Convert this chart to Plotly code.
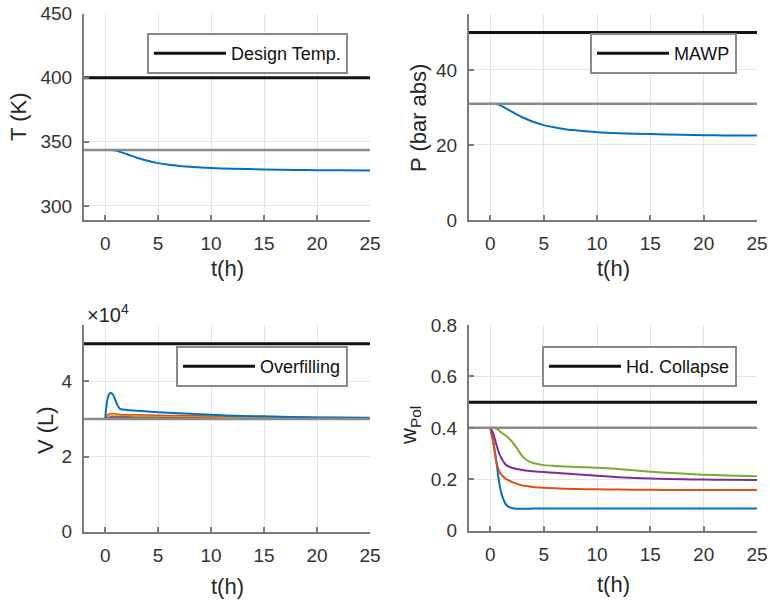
import plotly.graph_objects as go

# ---------------- data ----------------
x_ticks = [0, 5, 10, 15, 20, 25]

# Temperature panel
t_T = [0, 0.5, 1, 1.5, 2, 2.5, 3, 4, 5, 6, 7, 8, 10, 12, 15, 18, 20, 22, 25]
T_blue = [343.7, 343.7, 343.3, 342.0, 340.5, 339.0, 337.6, 335.2, 333.4, 332.1,
          331.2, 330.5, 329.6, 329.0, 328.5, 328.1, 327.9, 327.8, 327.6]
T_init = 343.7
T_design = 400
T_ticks = [300, 350, 400, 450]

# Pressure panel
P_blue = [31.0, 30.9, 30.5, 29.7, 28.9, 28.1, 27.4, 26.2, 25.3, 24.7,
          24.2, 23.9, 23.4, 23.1, 22.9, 22.7, 22.6, 22.55, 22.5]
P_init = 31.0
P_mawp = 50
P_ticks = [0, 20, 40]

# Volume panel
t_V = [0, 0.1, 0.2, 0.35, 0.5, 0.7, 0.9, 1.1, 1.4, 2, 3, 5, 7, 10, 13, 15, 20, 25]
V_blue = [3.00e4, 3.30e4, 3.50e4, 3.65e4, 3.69e4, 3.66e4, 3.55e4, 3.40e4, 3.27e4, 3.24e4,
          3.22e4, 3.18e4, 3.15e4, 3.11e4, 3.08e4, 3.07e4, 3.04e4, 3.03e4]
V_orange = [3.00e4, 3.06e4, 3.10e4, 3.13e4, 3.14e4, 3.14e4, 3.14e4, 3.13e4, 3.12e4, 3.11e4,
            3.11e4, 3.10e4, 3.09e4, 3.08e4, 3.07e4, 3.06e4, 3.04e4, 3.03e4]
V_yellow = [3.00e4, 3.03e4, 3.06e4, 3.08e4, 3.09e4, 3.09e4, 3.09e4, 3.09e4, 3.09e4, 3.09e4,
            3.08e4, 3.08e4, 3.07e4, 3.06e4, 3.05e4, 3.05e4, 3.04e4, 3.03e4]
V_purple = [3.00e4, 3.02e4, 3.04e4, 3.05e4, 3.06e4, 3.06e4, 3.06e4, 3.06e4, 3.06e4, 3.06e4,
            3.06e4, 3.06e4, 3.05e4, 3.05e4, 3.04e4, 3.04e4, 3.03e4, 3.03e4]
V_green = [3.00e4, 3.01e4, 3.02e4, 3.03e4, 3.04e4, 3.04e4, 3.04e4, 3.04e4, 3.04e4, 3.04e4,
           3.04e4, 3.04e4, 3.04e4, 3.04e4, 3.03e4, 3.03e4, 3.03e4, 3.03e4]
V_init = 3.0e4
V_over = 5.0e4
V_tickvals = [0, 2e4, 4e4]
V_ticktext = ["0", "2", "4"]

# Polymer fraction panel
t_w = [0, 0.25, 0.5, 0.75, 1, 1.5, 2, 2.5, 3, 3.5, 4, 5, 6, 8, 10, 12, 15, 18, 20, 22, 25]
w_blue = [0.40, 0.35, 0.29, 0.21, 0.15, 0.10, 0.088, 0.085, 0.085, 0.085, 0.086, 0.086, 0.086,
          0.086, 0.086, 0.086, 0.086, 0.086, 0.086, 0.086, 0.086]
w_orange = [0.40, 0.35, 0.28, 0.24, 0.22, 0.20, 0.19, 0.182, 0.176, 0.173, 0.170, 0.167, 0.165,
            0.162, 0.161, 0.160, 0.159, 0.158, 0.158, 0.158, 0.158]
w_purple = [0.40, 0.38, 0.345, 0.31, 0.285, 0.255, 0.245, 0.240, 0.236, 0.233, 0.231, 0.228,
            0.225, 0.220, 0.214, 0.208, 0.203, 0.200, 0.199, 0.198, 0.197]
w_green = [0.40, 0.40, 0.398, 0.392, 0.383, 0.368, 0.348, 0.320, 0.290, 0.272, 0.263, 0.255,
           0.252, 0.248, 0.245, 0.240, 0.229, 0.222, 0.218, 0.215, 0.212]
w_init = 0.4
w_collapse = 0.5
w_tickvals = [0, 0.2, 0.4, 0.6, 0.8]
w_ticktext = ["0", "0.2", "0.4", "0.6", "0.8"]

legend_names = ["Design Temp.", "MAWP", "Overfilling", "Hd. Collapse"]

# ---------------- style ----------------
C_BLUE, C_ORANGE, C_YELLOW, C_PURPLE, C_GREEN = "#0072BD", "#D95319", "#EDB120", "#7E2F8E", "#77AC30"
GRAY = "#8a8a8a"
BLACK = "#111111"
FONT = "Liberation Sans, Arial, sans-serif"
W, H = 770, 604

fig = go.Figure()

def px_x(p):
    return p / W

def px_y(p):
    return 1 - p / H

panels = [
    dict(xa="x", ya="y", xd=(84, 370), yd=(13.7, 220), yr=[289, 450], leg="legend"),
    dict(xa="x2", ya="y2", xd=(469, 757), yd=(13.7, 220), yr=[0, 55], leg="legend2"),
    dict(xa="x3", ya="y3", xd=(84, 370), yd=(325, 531.7), yr=[0, 5.5e4], leg="legend3"),
    dict(xa="x4", ya="y4", xd=(469, 757), yd=(325, 530.7), yr=[0, 0.8], leg="legend4"),
]

def line(x, y, color, width, p, name=None, show=False, shape="spline"):
    fig.add_trace(go.Scatter(
        x=x, y=y, mode="lines", name=name or "",
        line=dict(color=color, width=width, shape=shape, smoothing=0.6),
        xaxis=p["xa"], yaxis=p["ya"], legend=p["leg"], showlegend=show,
        hoverinfo="skip"))

xfull = [-2, 25]

# Panel 1: T
p = panels[0]
line(t_T, T_blue, C_BLUE, 2, p)
line(xfull, [T_init, T_init], GRAY, 2.5, p, shape="linear")
line(xfull, [T_design, T_design], BLACK, 3, p, name=legend_names[0], show=True, shape="linear")

# Panel 2: P
p = panels[1]
line(t_T, P_blue, C_BLUE, 2, p)
line(xfull, [P_init, P_init], GRAY, 2.5, p, shape="linear")
line(xfull, [P_mawp, P_mawp], BLACK, 3, p, name=legend_names[1], show=True, shape="linear")

# Panel 3: V
p = panels[2]
line(t_V, V_green, C_GREEN, 1.5, p)
line(t_V, V_purple, C_PURPLE, 1.5, p)
line(t_V, V_yellow, C_YELLOW, 1.5, p)
line(t_V, V_orange, C_ORANGE, 1.5, p)
line(t_V, V_blue, C_BLUE, 2, p)
line(xfull, [V_init, V_init], GRAY, 2.5, p, shape="linear")
line(xfull, [V_over, V_over], BLACK, 3, p, name=legend_names[2], show=True, shape="linear")

# Panel 4: w
p = panels[3]
line(t_w, w_blue, C_BLUE, 2, p)
line(t_w, w_orange, C_ORANGE, 2, p)
line(t_w, w_purple, C_PURPLE, 2, p)
line(t_w, w_green, C_GREEN, 2, p)
line(xfull, [w_init, w_init], GRAY, 2.5, p, shape="linear")
line(xfull, [w_collapse, w_collapse], BLACK, 3, p, name=legend_names[3], show=True, shape="linear")

AX_COLOR = "#7a7a7a"
TICK_FONT = dict(family=FONT, size=19, color="#333333")
layout = dict(
    width=W, height=H, margin=dict(l=0, r=0, t=0, b=0, pad=0, autoexpand=False),
    paper_bgcolor="white", plot_bgcolor="white",
    font=dict(family=FONT, color="#262626"),
)

yaxes_extra = [
    dict(tickvals=T_ticks),
    dict(tickvals=P_ticks),
    dict(tickvals=V_tickvals, ticktext=V_ticktext),
    dict(tickvals=w_tickvals, ticktext=w_ticktext),
]

for i, p in enumerate(panels):
    sfx = "" if i == 0 else str(i + 1)
    layout["xaxis" + sfx] = dict(
        domain=[px_x(p["xd"][0]), px_x(p["xd"][1])], range=[-2, 25],
        anchor="y" + sfx, tickvals=x_ticks, showline=True, linecolor=AX_COLOR, linewidth=2,
        ticks="inside", ticklen=5, tickcolor=AX_COLOR, tickwidth=1.5,
        showgrid=True, gridcolor="#e4e4e4", gridwidth=1, zeroline=False,
        tickfont=TICK_FONT, ticklabelstandoff=5, automargin=False,
        ticklabeloverflow="allow")
    ya = dict(
        domain=[px_y(p["yd"][1]), px_y(p["yd"][0])], range=p["yr"],
        anchor="x" + sfx, showline=True, linecolor=AX_COLOR, linewidth=2,
        ticks="inside", ticklen=5, tickcolor=AX_COLOR, tickwidth=1.5,
        showgrid=True, gridcolor="#e4e4e4", gridwidth=1, zeroline=False,
        tickfont=TICK_FONT, ticklabelstandoff=6, automargin=False,
        ticklabeloverflow="allow")
    ya.update(yaxes_extra[i])
    layout["yaxis" + sfx] = ya

legend_pos = [(348, 33), (737, 33), (348, 346), (737, 346)]
for i, (lx, ly) in enumerate(legend_pos):
    key = "legend" if i == 0 else "legend" + str(i + 1)
    layout[key] = dict(
        x=px_x(lx), y=px_y(ly), xanchor="right", yanchor="top",
        bgcolor="white", bordercolor="#8a8a8a", borderwidth=2,
        font=dict(family=FONT, size=18, color="#111111"),
        itemwidth=72, tracegroupgap=0)

fig.update_layout(**layout)

TITLE_FONT = dict(family=FONT, size=22, color="#262626")
annots = [
    ("T (K)", 18, 117, -90),
    ("P (bar abs)", 418, 118, -90),
    ("V (L)", 45, 430, -90),
    ("w<sub>Pol</sub>", 410, 425, -90),
    ("t(h)", 227, 268, 0),
    ("t(h)", 613, 268, 0),
    ("t(h)", 227, 586, 0),
    ("t(h)", 613, 584, 0),
]
for txt, ax, ay, ang in annots:
    fig.add_annotation(text=txt, x=px_x(ax), y=px_y(ay), xref="paper", yref="paper",
                       showarrow=False, textangle=ang, font=TITLE_FONT,
                       xanchor="center", yanchor="middle")

fig.add_annotation(text="×10<sup>4</sup>", x=px_x(85), y=px_y(313), xref="paper", yref="paper",
                   showarrow=False, xanchor="left", yanchor="middle",
                   font=dict(family=FONT, size=20, color="#262626"))

fig.write_html("out.html", config={"displayModeBar": False},
               post_script="document.body.style.margin='0px';document.body.style.overflow='hidden';")
